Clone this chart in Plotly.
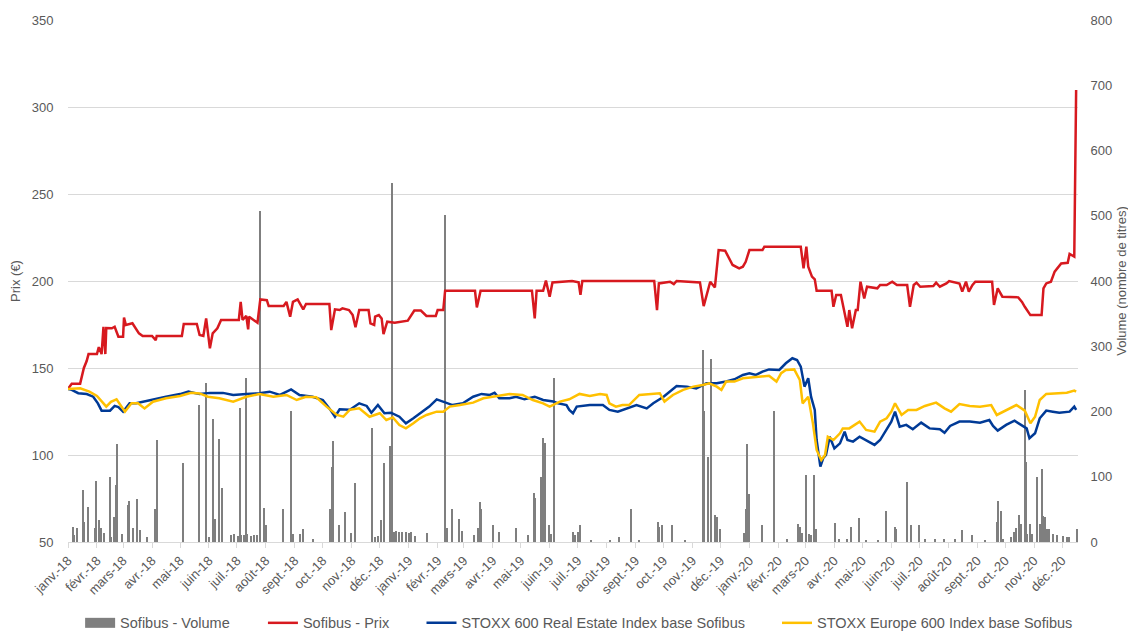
import plotly.graph_objects as go

# ---------------- data ----------------
months_fr = ["janv.", "févr.", "mars", "avr.", "mai", "juin",
             "juil.", "août", "sept.", "oct.", "nov.", "déc."]
years = ["18", "19", "20"]
tick_dates = [f"20{y}-{m:02d}-01" for y in years for m in range(1, 13)]
tick_labels = [f"{months_fr[m - 1]}-{y}" for y in years for m in range(1, 13)]

# Sofibus - Prix (EUR)
prix_points = [
    ("2018-01-01", 138), ("2018-01-05", 141), ("2018-01-14", 141), ("2018-01-18", 150),
    ("2018-01-21", 154), ("2018-01-23", 158), ("2018-02-01", 158), ("2018-02-03", 162),
    ("2018-02-06", 158), ("2018-02-08", 173.7), ("2018-02-10", 158), ("2018-02-11", 173),
    ("2018-02-17", 172.8), ("2018-02-20", 173.7), ("2018-02-24", 168), ("2018-03-01", 168),
    ("2018-03-02", 179), ("2018-03-04", 174.7), ("2018-03-11", 175.7), ("2018-03-15", 172.8),
    ("2018-03-18", 169.9), ("2018-03-22", 168.4), ("2018-04-01", 168.4), ("2018-04-05", 166),
    ("2018-04-06", 168.4), ("2018-05-03", 168.4), ("2018-05-05", 175.3), ("2018-05-19", 175.3),
    ("2018-05-22", 169), ("2018-05-26", 168.4), ("2018-05-29", 178.5), ("2018-06-02", 161.3),
    ("2018-06-05", 169.9), ("2018-06-10", 172.8), ("2018-06-14", 177.6), ("2018-07-03", 177.6),
    ("2018-07-05", 188), ("2018-07-07", 177.6), ("2018-07-11", 179.9), ("2018-07-13", 172.2),
    ("2018-07-14", 179.5), ("2018-07-23", 176), ("2018-07-26", 189.4), ("2018-08-02", 189),
    ("2018-08-04", 185.6), ("2018-08-20", 185.6), ("2018-08-23", 188), ("2018-08-27", 179.5),
    ("2018-08-30", 188), ("2018-09-04", 189.4), ("2018-09-10", 183.7), ("2018-09-13", 186.8),
    ("2018-10-08", 186.8), ("2018-10-10", 171.8), ("2018-10-14", 183.7), ("2018-10-19", 183.3),
    ("2018-10-22", 184.3), ("2018-10-29", 183.3), ("2018-11-02", 180.4), ("2018-11-05", 173.4),
    ("2018-11-09", 183.3), ("2018-11-19", 183.3), ("2018-11-21", 175.6), ("2018-11-25", 174.7),
    ("2018-11-26", 179.5), ("2018-11-30", 180.4), ("2018-12-03", 178.5), ("2018-12-05", 169.5),
    ("2018-12-09", 176.6), ("2018-12-17", 176), ("2018-12-31", 177.2), ("2019-01-07", 183),
    ("2019-01-14", 183), ("2019-01-20", 179.9), ("2019-01-30", 179.9), ("2019-02-01", 183.3),
    ("2019-02-07", 183.3), ("2019-02-09", 194.4), ("2019-03-13", 194.4), ("2019-03-15", 184.8),
    ("2019-03-19", 194.4), ("2019-05-13", 194.4), ("2019-05-16", 178.5), ("2019-05-18", 194.4),
    ("2019-05-25", 194.4), ("2019-05-28", 200.2), ("2019-06-01", 191), ("2019-06-04", 199.2),
    ("2019-06-25", 200), ("2019-07-02", 199.2), ("2019-07-04", 192), ("2019-07-06", 200),
    ("2019-09-21", 200), ("2019-09-24", 183.3), ("2019-09-26", 198.6), ("2019-10-08", 199.6),
    ("2019-10-12", 198.2), ("2019-10-15", 200), ("2019-11-09", 199.2), ("2019-11-13", 185.6),
    ("2019-11-16", 192), ("2019-11-20", 199.6), ("2019-11-25", 196.3), ("2019-11-29", 217.8),
    ("2019-12-06", 217.4), ("2019-12-11", 212), ("2019-12-14", 209.2), ("2019-12-21", 207.3),
    ("2019-12-25", 208.2), ("2019-12-28", 211), ("2020-01-01", 217.8), ("2020-01-15", 217.8),
    ("2020-01-17", 219.7), ("2020-02-25", 219.7), ("2020-02-28", 207.3), ("2020-03-02", 219.7),
    ("2020-03-04", 208.2), ("2020-03-08", 202.5), ("2020-03-11", 201), ("2020-03-13", 194.4),
    ("2020-03-29", 194.4), ("2020-03-31", 185.2), ("2020-04-03", 192), ("2020-04-08", 192),
    ("2020-04-12", 181.4), ("2020-04-15", 173.7), ("2020-04-17", 183.3), ("2020-04-20", 172.8),
    ("2020-04-24", 183.3), ("2020-04-26", 183.3), ("2020-04-29", 199.6), ("2020-05-03", 190),
    ("2020-05-06", 196.7), ("2020-05-17", 195.8), ("2020-05-20", 197.7), ("2020-05-27", 197.7),
    ("2020-06-02", 199.6), ("2020-06-07", 197.7), ("2020-06-18", 197.7), ("2020-06-21", 185.2),
    ("2020-06-25", 197.7), ("2020-06-28", 199), ("2020-07-02", 196.7), ("2020-07-16", 197.1),
    ("2020-07-19", 199), ("2020-07-23", 196.7), ("2020-07-30", 198.6), ("2020-08-02", 200),
    ("2020-08-13", 198.6), ("2020-08-16", 193.9), ("2020-08-20", 199.6), ("2020-08-23", 193.9),
    ("2020-08-27", 197.7), ("2020-08-30", 199.6), ("2020-09-17", 199.6), ("2020-09-19", 186.2),
    ("2020-09-23", 195.8), ("2020-09-28", 191), ("2020-10-15", 190.6), ("2020-10-19", 188),
    ("2020-10-22", 185.2), ("2020-10-28", 180.4), ("2020-11-09", 180.4), ("2020-11-11", 195.8),
    ("2020-11-14", 198.6), ("2020-11-19", 199.6), ("2020-11-23", 205.4), ("2020-11-26", 207.3),
    ("2020-11-30", 210.1), ("2020-12-07", 210.5), ("2020-12-09", 215.5), ("2020-12-14", 214),
    ("2020-12-16", 309.8),
]

# STOXX 600 Real Estate Index base Sofibus
real_estate_points = [
    ("2018-01-01", 138), ("2018-01-05", 137.4), ("2018-01-12", 135.5), ("2018-01-21", 135),
    ("2018-01-28", 133.5), ("2018-02-02", 129.7), ("2018-02-06", 125.5), ("2018-02-15", 125.5),
    ("2018-02-20", 128.2), ("2018-02-24", 127.5), ("2018-03-01", 124.9), ("2018-03-08", 129.7),
    ("2018-03-15", 129.7), ("2018-03-22", 130.6), ("2018-04-02", 132), ("2018-04-16", 133.5),
    ("2018-05-01", 135), ("2018-05-10", 136.4), ("2018-05-22", 135), ("2018-06-02", 135.7),
    ("2018-06-16", 135.7), ("2018-06-27", 134.5), ("2018-07-11", 135), ("2018-07-25", 135.5),
    ("2018-08-05", 136.4), ("2018-08-16", 134.5), ("2018-08-28", 137.7), ("2018-09-06", 134.5),
    ("2018-09-20", 133.5), ("2018-10-01", 131.6), ("2018-10-08", 126.8), ("2018-10-14", 122),
    ("2018-10-19", 126.3), ("2018-10-30", 126), ("2018-11-09", 129.7), ("2018-11-17", 128.2),
    ("2018-11-22", 124.3), ("2018-11-29", 128.8), ("2018-12-06", 124), ("2018-12-13", 124.3),
    ("2018-12-22", 122), ("2018-12-29", 118.2), ("2019-01-06", 121.1), ("2019-01-13", 124),
    ("2019-01-23", 127.8), ("2019-01-31", 132), ("2019-02-07", 130.7), ("2019-02-17", 128.7),
    ("2019-02-28", 129.7), ("2019-03-11", 133.5), ("2019-03-20", 135.1), ("2019-03-29", 134.5),
    ("2019-04-03", 135.8), ("2019-04-08", 132.6), ("2019-04-19", 132.6), ("2019-04-26", 133.5),
    ("2019-05-05", 132), ("2019-05-16", 133.5), ("2019-05-25", 131.6), ("2019-06-05", 130.7),
    ("2019-06-10", 129.7), ("2019-06-19", 128.7), ("2019-06-22", 125.9), ("2019-06-26", 124),
    ("2019-06-30", 127.8), ("2019-07-14", 128.7), ("2019-07-28", 128.7), ("2019-08-04", 125.9),
    ("2019-08-13", 124.9), ("2019-08-22", 126.8), ("2019-09-02", 128.7), ("2019-09-13", 126.8),
    ("2019-09-20", 129.7), ("2019-10-01", 133.5), ("2019-10-08", 136.4), ("2019-10-15", 139.7),
    ("2019-10-26", 139.3), ("2019-11-05", 138.3), ("2019-11-16", 141.2), ("2019-11-27", 141.2),
    ("2019-12-07", 142.2), ("2019-12-16", 143.5), ("2019-12-25", 146), ("2020-01-01", 147),
    ("2020-01-08", 146), ("2020-01-15", 147.9), ("2020-01-22", 149.2), ("2020-02-02", 148.9),
    ("2020-02-09", 152.7), ("2020-02-16", 155.6), ("2020-02-21", 154.6), ("2020-02-25", 150.8),
    ("2020-02-29", 139.3), ("2020-03-04", 144.1), ("2020-03-07", 133.5), ("2020-03-11", 125.9),
    ("2020-03-13", 108.6), ("2020-03-17", 93.3), ("2020-03-20", 98.1), ("2020-03-23", 100),
    ("2020-03-27", 110.5), ("2020-04-01", 103.8), ("2020-04-07", 106.7), ("2020-04-12", 113.4),
    ("2020-04-15", 108.6), ("2020-04-21", 107.7), ("2020-04-28", 110.5), ("2020-05-05", 108.6),
    ("2020-05-14", 105.8), ("2020-05-20", 108.6), ("2020-05-27", 114.4), ("2020-06-01", 119.2),
    ("2020-06-05", 124.9), ("2020-06-10", 116.3), ("2020-06-17", 117.3), ("2020-06-24", 114.8),
    ("2020-07-03", 118.6), ("2020-07-12", 115.3), ("2020-07-23", 114.8), ("2020-07-28", 112.8),
    ("2020-08-03", 116.7), ("2020-08-13", 119.2), ("2020-08-24", 119.2), ("2020-09-04", 118.6),
    ("2020-09-14", 120.1), ("2020-09-18", 116.7), ("2020-09-23", 114), ("2020-10-02", 117.3),
    ("2020-10-11", 119.7), ("2020-10-18", 117.3), ("2020-10-24", 115.3), ("2020-10-27", 109.6),
    ("2020-11-02", 112.5), ("2020-11-07", 121.1), ("2020-11-14", 125.5), ("2020-11-21", 124.9),
    ("2020-11-28", 124.3), ("2020-12-09", 124.9), ("2020-12-14", 127.8), ("2020-12-16", 125.9),
]

# STOXX Europe 600 Index base Sofibus
europe600_points = [
    ("2018-01-01", 138), ("2018-01-14", 138.3), ("2018-01-24", 136.4), ("2018-02-01", 133.9),
    ("2018-02-08", 129.7), ("2018-02-11", 127.8), ("2018-02-16", 130.6), ("2018-02-22", 132),
    ("2018-03-03", 124.9), ("2018-03-10", 129.7), ("2018-03-17", 129.7), ("2018-03-24", 126.8),
    ("2018-04-02", 130.6), ("2018-04-16", 132.6), ("2018-05-01", 133.9), ("2018-05-13", 135.8),
    ("2018-05-22", 135.4), ("2018-05-31", 133.5), ("2018-06-12", 132.6), ("2018-06-27", 130.6),
    ("2018-07-11", 133.5), ("2018-07-25", 135), ("2018-08-09", 133.5), ("2018-08-23", 134.5),
    ("2018-09-03", 131.6), ("2018-09-13", 133.5), ("2018-09-24", 133.2), ("2018-10-05", 127.8),
    ("2018-10-16", 123), ("2018-10-23", 122), ("2018-10-30", 126), ("2018-11-09", 126.8),
    ("2018-11-20", 122), ("2018-12-01", 124), ("2018-12-08", 120.1), ("2018-12-15", 121.6),
    ("2018-12-22", 117.2), ("2018-12-29", 115.3), ("2019-01-06", 118.2), ("2019-01-13", 121.1),
    ("2019-01-20", 123), ("2019-01-31", 124.9), ("2019-02-07", 124.9), ("2019-02-14", 127.8),
    ("2019-02-25", 128.7), ("2019-03-11", 130.1), ("2019-03-22", 132.6), ("2019-04-05", 133.9),
    ("2019-04-19", 135.1), ("2019-05-03", 134.5), ("2019-05-14", 131.6), ("2019-05-25", 129.7),
    ("2019-06-01", 127.8), ("2019-06-12", 130.7), ("2019-06-22", 132), ("2019-07-03", 135.1),
    ("2019-07-14", 133.9), ("2019-07-25", 135.1), ("2019-08-01", 134.5), ("2019-08-04", 129.7),
    ("2019-08-11", 127.8), ("2019-08-18", 128.7), ("2019-08-25", 128.7), ("2019-09-05", 134.5),
    ("2019-09-16", 135.1), ("2019-09-27", 135.5), ("2019-10-02", 130.7), ("2019-10-11", 134.5),
    ("2019-10-22", 137.4), ("2019-11-02", 139.3), ("2019-11-12", 140.2), ("2019-11-19", 141.2),
    ("2019-11-27", 139.3), ("2019-12-02", 137.4), ("2019-12-07", 142.2), ("2019-12-16", 142.2),
    ("2019-12-25", 144.1), ("2020-01-08", 144.6), ("2020-01-22", 145.5), ("2020-01-30", 142.2),
    ("2020-02-04", 147), ("2020-02-09", 148.9), ("2020-02-18", 149.2), ("2020-02-24", 143.1),
    ("2020-02-27", 129.7), ("2020-03-04", 133.5), ("2020-03-09", 118.2), ("2020-03-13", 102.9),
    ("2020-03-18", 97.1), ("2020-03-22", 100), ("2020-03-25", 110.5), ("2020-03-31", 108.6),
    ("2020-04-07", 112.5), ("2020-04-10", 115.3), ("2020-04-17", 115.3), ("2020-04-28", 119.2),
    ("2020-05-05", 114.4), ("2020-05-14", 113.4), ("2020-05-20", 119.2), ("2020-05-27", 121.1),
    ("2020-06-01", 124.9), ("2020-06-05", 129.7), ("2020-06-12", 123), ("2020-06-19", 125.9),
    ("2020-06-28", 125.9), ("2020-07-07", 128.2), ("2020-07-19", 130.1), ("2020-07-28", 126.8),
    ("2020-08-04", 124.9), ("2020-08-13", 129.3), ("2020-08-24", 128.2), ("2020-09-04", 127.8),
    ("2020-09-16", 128.7), ("2020-09-22", 123), ("2020-10-02", 125.9), ("2020-10-13", 128.7),
    ("2020-10-22", 125.5), ("2020-10-28", 118.2), ("2020-11-02", 122), ("2020-11-07", 131.6),
    ("2020-11-14", 135.1), ("2020-11-25", 135.5), ("2020-12-06", 135.8), ("2020-12-14", 137),
    ("2020-12-16", 136.4),
]

# Sofibus - Volume (nombre de titres)
volume_points = [
    ("2018-01-06", 23.5), ("2018-01-08", 10.7), ("2018-01-11", 20.9), ("2018-01-17", 79.7),
    ("2018-01-18", 31.2), ("2018-01-23", 53.1), ("2018-01-30", 20.9), ("2018-01-31", 94),
    ("2018-02-03", 33.7), ("2018-02-06", 22), ("2018-02-09", 14), ("2018-02-15", 100.1),
    ("2018-02-16", 7), ("2018-02-19", 38.3), ("2018-02-22", 87.6), ("2018-02-23", 149.8),
    ("2018-02-28", 13), ("2018-03-06", 56.7), ("2018-03-07", 62.8), ("2018-03-12", 21),
    ("2018-03-16", 65.4), ("2018-03-19", 19), ("2018-03-27", 7), ("2018-04-04", 50.5),
    ("2018-04-06", 123.5), ("2018-04-07", 156.6), ("2018-05-04", 120.6), ("2018-05-21", 210),
    ("2018-05-22", 104), ("2018-05-29", 243), ("2018-06-01", 8), ("2018-06-06", 189),
    ("2018-06-08", 35), ("2018-06-12", 157.8), ("2018-06-15", 82.7), ("2018-06-25", 10),
    ("2018-06-28", 12), ("2018-07-02", 9), ("2018-07-04", 205), ("2018-07-05", 11),
    ("2018-07-09", 10), ("2018-07-11", 251.3), ("2018-07-12", 12), ("2018-07-16", 9),
    ("2018-07-19", 11), ("2018-07-23", 10), ("2018-07-26", 507), ("2018-07-30", 52.6),
    ("2018-08-01", 26), ("2018-08-20", 50.5), ("2018-08-28", 201.3), ("2018-08-30", 12),
    ("2018-09-07", 12), ("2018-09-10", 19.4), ("2018-09-21", 5), ("2018-10-09", 50.5),
    ("2018-10-11", 114.5), ("2018-10-12", 155.3), ("2018-10-19", 26), ("2018-10-25", 46),
    ("2018-10-31", 13.3), ("2018-11-05", 89.9), ("2018-11-23", 174.2), ("2018-11-26", 8),
    ("2018-11-29", 9), ("2018-12-02", 33.7), ("2018-12-06", 120.6), ("2018-12-12", 147.1),
    ("2018-12-14", 550), ("2018-12-16", 15), ("2018-12-19", 17), ("2018-12-22", 15),
    ("2018-12-25", 16), ("2018-12-29", 15), ("2019-01-01", 14), ("2019-01-04", 15),
    ("2019-01-08", 9), ("2019-01-21", 13.3), ("2019-02-09", 501), ("2019-02-11", 20.9),
    ("2019-02-17", 50), ("2019-02-24", 36), ("2019-02-27", 17.4), ("2019-03-12", 10),
    ("2019-03-16", 20.9), ("2019-03-19", 60.8), ("2019-03-20", 50), ("2019-04-01", 25.5),
    ("2019-04-08", 15), ("2019-04-26", 20.9), ("2019-05-09", 10), ("2019-05-15", 75.1),
    ("2019-05-16", 68), ("2019-05-23", 100.1), ("2019-05-25", 159.9), ("2019-05-27", 151.2),
    ("2019-05-31", 25.5), ("2019-06-03", 12), ("2019-06-06", 251.5), ("2019-06-26", 15),
    ("2019-06-28", 10), ("2019-07-01", 15), ("2019-07-04", 25.5), ("2019-07-15", 3),
    ("2019-08-05", 3), ("2019-08-14", 8), ("2019-08-27", 50), ("2019-09-05", 3),
    ("2019-09-25", 31.2), ("2019-09-26", 23), ("2019-09-30", 25.5), ("2019-10-10", 25.5),
    ("2019-10-24", 3), ("2019-11-12", 295), ("2019-11-13", 201), ("2019-11-18", 130.8),
    ("2019-11-21", 280), ("2019-11-25", 40.9), ("2019-11-27", 38.3), ("2019-12-01", 20),
    ("2019-12-26", 13.3), ("2019-12-29", 50), ("2019-12-30", 149.8), ("2020-01-01", 73.6),
    ("2020-01-15", 25.5), ("2020-01-27", 201.3), ("2020-02-10", 5), ("2020-02-22", 27),
    ("2020-02-24", 23), ("2020-02-26", 14), ("2020-03-02", 102), ("2020-03-05", 12),
    ("2020-03-07", 10), ("2020-03-10", 102), ("2020-03-12", 20), ("2020-04-02", 29.6),
    ("2020-04-06", 5), ("2020-04-15", 5), ("2020-04-19", 23.5), ("2020-04-28", 36.3),
    ("2020-05-05", 3), ("2020-05-18", 3), ("2020-05-27", 48), ("2020-06-05", 23.5),
    ("2020-06-06", 20), ("2020-06-18", 91.4), ("2020-06-22", 25.5), ("2020-07-01", 25.5),
    ("2020-07-07", 5), ("2020-07-18", 4), ("2020-07-28", 4), ("2020-08-08", 4),
    ("2020-08-16", 18), ("2020-08-27", 10.7), ("2020-09-09", 3), ("2020-09-22", 31.2),
    ("2020-09-23", 62.8), ("2020-09-27", 48), ("2020-09-29", 5), ("2020-10-07", 8),
    ("2020-10-11", 16), ("2020-10-13", 21), ("2020-10-16", 40.9), ("2020-10-18", 28),
    ("2020-10-22", 232.9), ("2020-10-23", 122.9), ("2020-10-25", 13), ("2020-10-28", 28),
    ("2020-10-30", 13), ("2020-11-04", 100.1), ("2020-11-07", 28), ("2020-11-10", 111.9),
    ("2020-11-11", 40), ("2020-11-13", 39), ("2020-11-15", 20), ("2020-11-17", 20),
    ("2020-11-21", 13), ("2020-11-26", 10), ("2020-12-02", 9), ("2020-12-06", 8),
    ("2020-12-09", 8), ("2020-12-17", 19.4),
]

# ---------------- figure ----------------
FONT = "Liberation Sans, Arial, sans-serif"
TXT = "#595959"
GRID = "#d9d9d9"
GRAY = "#7f7f7f"
DAY_MS = 86400000

def split(points):
    return [p[0] for p in points], [p[1] for p in points]

vol_x, vol_y = split(volume_points)
prix_x, prix_y = split(prix_points)
re_x, re_y = split(real_estate_points)
eu_x, eu_y = split(europe600_points)

fig = go.Figure()
fig.add_trace(go.Bar(
    x=vol_x, y=vol_y, name="Sofibus - Volume", yaxis="y", showlegend=False,
    legendgroup="vol", width=DAY_MS * 1.4, marker=dict(color=GRAY, line=dict(width=0)),
))
# legend entry for the volume bars (wide rectangle swatch, as in the reference)
fig.add_trace(go.Scatter(
    x=[None], y=[None], name="Sofibus - Volume", yaxis="y", mode="lines",
    legendgroup="vol", legend="legend", line=dict(color=GRAY, width=10),
))
fig.add_trace(go.Scatter(
    x=prix_x, y=prix_y, name="Sofibus - Prix", yaxis="y2", mode="lines",
    legend="legend2", line=dict(color="#d7191f", width=2.5),
))
fig.add_trace(go.Scatter(
    x=re_x, y=re_y, name="STOXX 600 Real Estate Index base Sofibus", yaxis="y2",
    mode="lines", legend="legend3", line=dict(color="#003a96", width=2.5),
))
fig.add_trace(go.Scatter(
    x=eu_x, y=eu_y, name="STOXX Europe 600 Index base Sofibus", yaxis="y2",
    mode="lines", legend="legend4", line=dict(color="#ffc000", width=2.5),
))

def legend_at(xpos):
    return dict(orientation="h", x=xpos, xanchor="left", y=-0.155, yanchor="middle",
                font=dict(family=FONT, size=14.5, color=TXT), bgcolor="rgba(0,0,0,0)")

# the page body has an 8px margin, so the figure is 8px smaller than the window
fig.update_layout(
    width=1128, height=623,
    margin=dict(l=60, r=58, t=12, b=89, autoexpand=False),
    paper_bgcolor="white", plot_bgcolor="white",
    font=dict(family=FONT, size=13, color=TXT),
    showlegend=True,
    legend=legend_at(0.012),
    legend2=legend_at(0.193),
    legend3=legend_at(0.350),
    legend4=legend_at(0.702),
    bargap=0,
    xaxis=dict(
        type="date", range=["2018-01-01", "2020-12-18"], automargin=False,
        tickvals=tick_dates, ticktext=tick_labels, tickangle=-45,
        ticks="outside", ticklen=5, tickcolor=GRID,
        showline=True, linecolor=GRID, linewidth=1, showgrid=False, zeroline=False,
        tickfont=dict(family=FONT, size=13, color=TXT),
    ),
    yaxis=dict(
        side="right", range=[0, 800], dtick=100, showgrid=False, zeroline=False,
        showline=False, ticks="outside", ticklen=9, tickcolor="rgba(0,0,0,0)",
        automargin=False,
        tickfont=dict(family=FONT, size=13, color=TXT),
        title=dict(text="Volume (nombre de titres)", font=dict(family=FONT, size=13, color=TXT),
                   standoff=5),
    ),
    yaxis2=dict(
        overlaying="y", side="left", range=[50, 350], dtick=50, automargin=False,
        showgrid=True, gridcolor=GRID, gridwidth=1, zeroline=False, showline=False,
        ticks="outside", ticklen=11, tickcolor="rgba(0,0,0,0)",
        tickfont=dict(family=FONT, size=13, color=TXT),
        title=dict(text="Prix (€)", font=dict(family=FONT, size=13, color=TXT), standoff=8),
    ),
)

fig.write_html("out.html")
